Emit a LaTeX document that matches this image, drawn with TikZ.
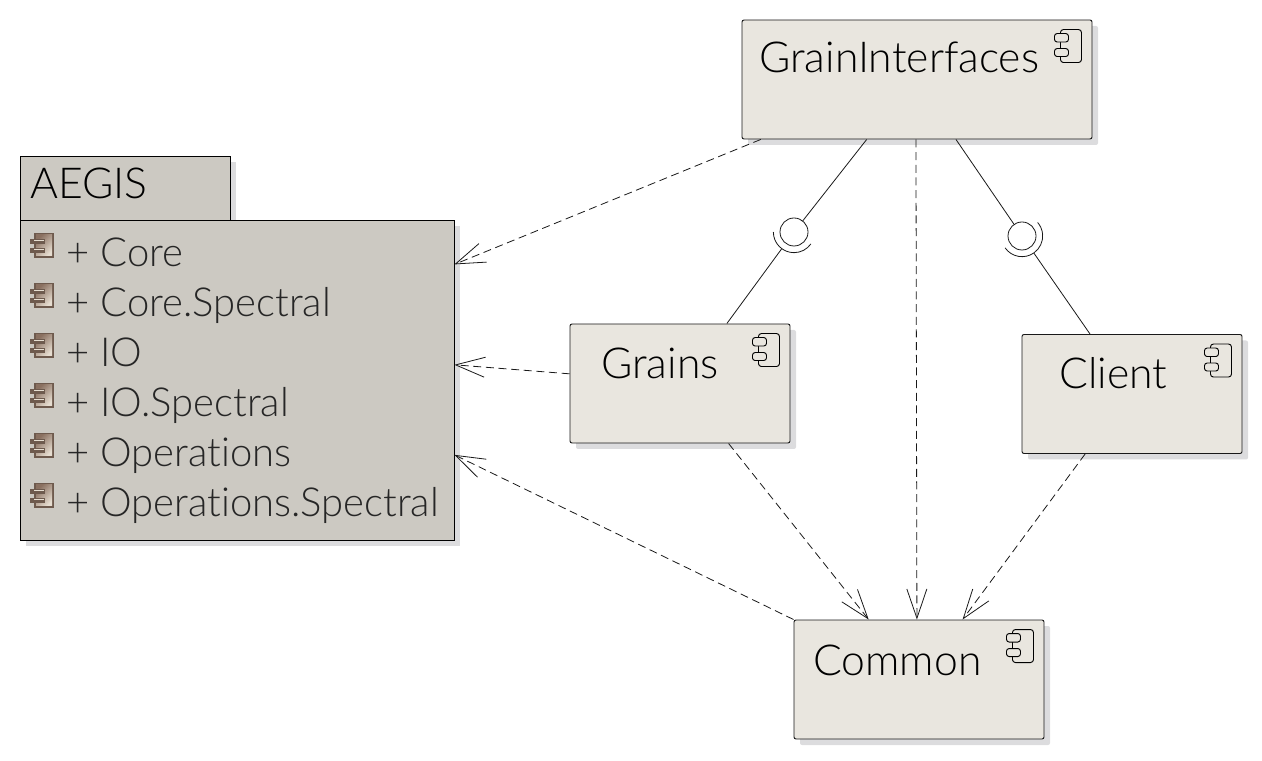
\documentclass[tikz,border=0pt]{standalone}
\usepackage{fontspec}
\setmainfont{Lato}[UprightFont={* Light}, Ligatures=NoCommon]
\usetikzlibrary{arrows.meta,shadows}

\definecolor{compfill}{HTML}{E9E6DF}
\definecolor{pkgfill}{HTML}{CCC9C2}
\definecolor{shadowgray}{HTML}{DCDCDE}
\definecolor{iconlight}{HTML}{E6DDD0}
\definecolor{icondark}{HTML}{8A7060}

\tikzset{
	boxshadow/.style={drop shadow={shadow xshift=4.5pt, shadow yshift=-4.5pt, fill=shadowgray, opacity=1}},
	compbox/.style={draw=black!90, line width=.7pt, fill=compfill, rounded corners=1.5pt, minimum height=89.25pt, inner sep=0pt, boxshadow},
	pkgbox/.style={draw=black, line width=.6pt, fill=pkgfill, inner sep=0pt, boxshadow},
	nametext/.style={anchor=base west, inner sep=0pt, font=\fontsize{32}{32}\selectfont},
	membertext/.style={anchor=base west, inner sep=0pt, font=\fontsize{30}{30}\selectfont, text=black!85},
	ball/.style={circle, draw=black!90, line width=.6pt, fill=white, inner sep=0pt, outer sep=0pt, minimum size=21pt},
	socket/.style={circle, inner sep=0pt, outer sep=0pt, minimum size=31pt},
	usage/.style={draw=black!90, line width=.6pt, dash pattern=on 6pt off 3.5pt, -{Straight Barb[length=22pt, width=15pt, line width=.6pt]}},
	wire/.style={draw=black!90, line width=.6pt},
	pics/compicon/.style={code={
		% drawn from the top right corner of the icon
		\draw[line width=.7pt, rounded corners=2.2pt] (-21,-33) rectangle (0,0);
		\draw[line width=.7pt, rounded corners=2pt, fill=compfill] (-27,-12.5) rectangle (-13,-4);
		\draw[line width=.7pt, rounded corners=2pt, fill=compfill] (-27,-27) rectangle (-13,-19);
	}},
	pics/membericon/.style={code={
		\fill[icondark!80!black] (4,0) rectangle (24,-25);
		\shade[left color=icondark, right color=iconlight, shading angle=45] (6,-2) rectangle (22,-23);
		\fill[icondark!80!black] (0,-6) rectangle (15,-11);
		\fill[iconlight] (4,-7) rectangle (14,-8.5);
		\fill[icondark!80!black] (0,-15) rectangle (15,-20);
		\fill[iconlight] (4,-16) rectangle (14,-17.5);
	}}
}

\begin{document}
\begin{tikzpicture}[x=.75pt, y=.75pt]
  \useasboundingbox (0,0) rectangle (1262,760);
  % package on the left, y counted up from the bottom
  \node (aegis_tab) [pkgbox, minimum width=157.5pt, minimum height=48pt] at (125,572) {};
  \node (aegis) [pkgbox, minimum width=325.5pt, minimum height=240pt] at (237,380) {};
  \node (aegis_name) [nametext] at (30,561) {AEGIS};
  \node (m_core) [membertext] at (66,493) {+ Core};
  \node (m_corespec) [membertext] at (66,443) {+ Core.Spectral};
  \node (m_io) [membertext] at (66,393) {+ IO};
  \node (m_iospec) [membertext] at (66,343) {+ IO.Spectral};
  \node (m_ops) [membertext] at (66,293) {+ Operations};
  \node (m_opsspec) [membertext] at (66,243) {+ Operations.Spectral};
  \foreach \y in {527,477,427,377,327,277}
    \pic at (30,\y) {membericon};

  \node (gi) [compbox, minimum width=262.5pt] at (917,680.5) {};
  \node (grains) [compbox, minimum width=165pt] at (680,376.5) {};
  \node (client) [compbox, minimum width=165pt] at (1132,366) {};
  \node (common) [compbox, minimum width=187.5pt] at (919,80.5) {};
  \node (gi_name) [nametext] at (759,687) {GrainInterfaces};
  \node (grains_name) [nametext] at (601,381) {Grains};
  \node (client_name) [nametext] at (1059,371) {Client};
  \node (common_name) [nametext] at (813,85) {Common};
  \pic at ([shift={(-11,-10)}]gi.north east) {compicon};
  \pic at ([shift={(-11,-10)}]grains.north east) {compicon};
  \pic at ([shift={(-11,-10)}]client.north east) {compicon};
  \pic at ([shift={(-11,-10)}]common.north east) {compicon};

  \node (ball_l) [ball] at (794,528) {};
  \node (ball_r) [ball] at (1022,524) {};
  \node (sock_l) [socket] at (794,528) {};
  \node (sock_r) [socket] at (1022,524) {};
  \draw[wire] (sock_l.180) arc[start angle=180, end angle=325, radius=20.67];
  \draw[wire] (sock_r.215) arc[start angle=215, end angle=401, radius=20.67];

  \draw[wire] (gi.230.2) -- (ball_l);
  \draw[wire] (grains.52.9) -- (sock_l);
  \draw[wire] (gi.303) -- (ball_r);
  \draw[wire] (client.125) -- (sock_r);

  \draw[usage] (gi.201.2) -- (aegis.28.5);
  \draw[usage] (grains.175.1) -- (aegis.4.2);
  \draw[usage] (common.north west) -- (aegis.341.2);
  \draw[usage] (gi.269) -- (common.92.9);
  \draw[usage] (grains.309.5) -- (common.130.6);
  \draw[usage] (client.232) -- (common.54.1);
\end{tikzpicture}
\end{document}
